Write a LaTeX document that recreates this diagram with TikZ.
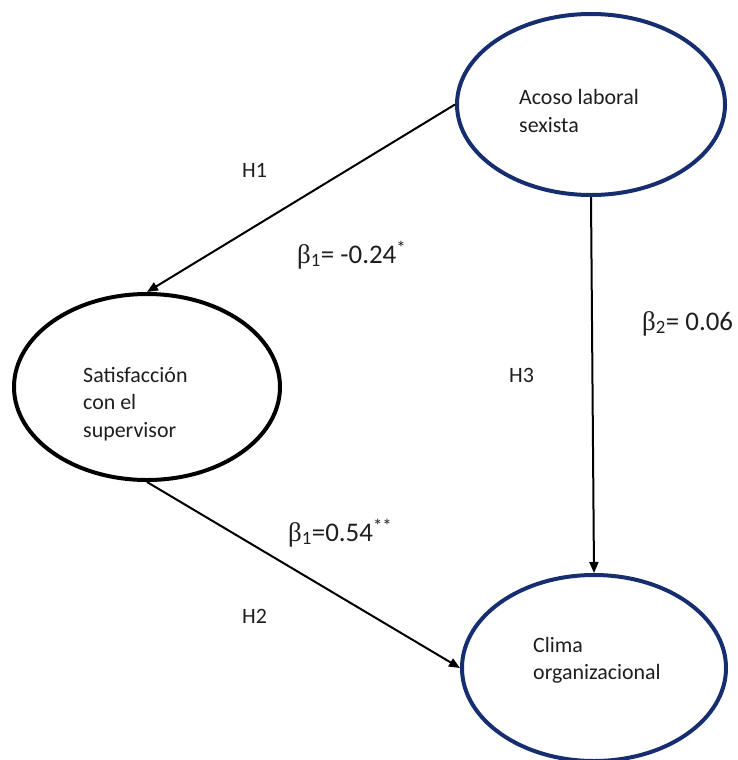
\documentclass[tikz,border=0pt]{standalone}
\usepackage{fontspec}
\setmainfont{Carlito}
\newfontfamily\grk{Liberation Serif}
\usetikzlibrary{arrows.meta,shapes.geometric}
\definecolor{navy}{RGB}{22,46,112}
\definecolor{txt}{RGB}{30,30,30}
\tikzset{
  latent/.style={ellipse,draw,line width=4bp,inner sep=0pt},
  vtext/.style={align=left,anchor=west,inner sep=0pt,text=txt,font=\fontsize{22}{27.5}\selectfont},
  hlab/.style={anchor=base west,inner sep=0pt,text=txt,font=\fontsize{22}{26}\selectfont},
  blab/.style={anchor=base west,inner sep=0pt,text=txt,font=\fontsize{27}{30}\selectfont},
  path/.style={line width=2bp,-{Triangle[length=11bp,width=9bp]}}
}
\newcommand{\bet}{{\grk β}}
\begin{document}
\begin{tikzpicture}[x=1bp,y=-1bp]
\useasboundingbox (0,0) rectangle (738,760);
\clip (0,0) rectangle (738,760);
\node[latent,draw=navy,minimum width=268bp,minimum height=181bp] (acoso) at (591,104.5) {};
\node[latent,draw=black,minimum width=266bp,minimum height=186bp] (sat) at (147,387) {};
\node[latent,draw=navy,minimum width=264bp,minimum height=186bp] (clima) at (594,668) {};
\node[vtext] (tacoso) at (519,111) {Acoso laboral\\sexista};
\node[vtext] (tsat) at (83,404) {Satisfacción\\con el\\supervisor};
\node[vtext] (tclima) at (533,660) {Clima\\organizacional};
\draw[path] (acoso.west) -- (sat.north);
\draw[path] (sat.south) -- (clima.west);
\draw[path] (acoso.south) -- (clima.north);
\node[hlab] (h1) at (242,177) {H1};
\node[hlab] (h2) at (242,623) {H2};
\node[hlab] (h3) at (509,382) {H3};
\node[blab] (b1) at (297,263) {\bet\textsubscript{1}= -0.24\textsuperscript{*}};
\node[blab] (b2) at (288,541) {\bet\textsubscript{1}=0.54\textsuperscript{**}};
\node[blab] (b3) at (642,330) {\bet\textsubscript{2}= 0.06};
\end{tikzpicture}
\end{document}
